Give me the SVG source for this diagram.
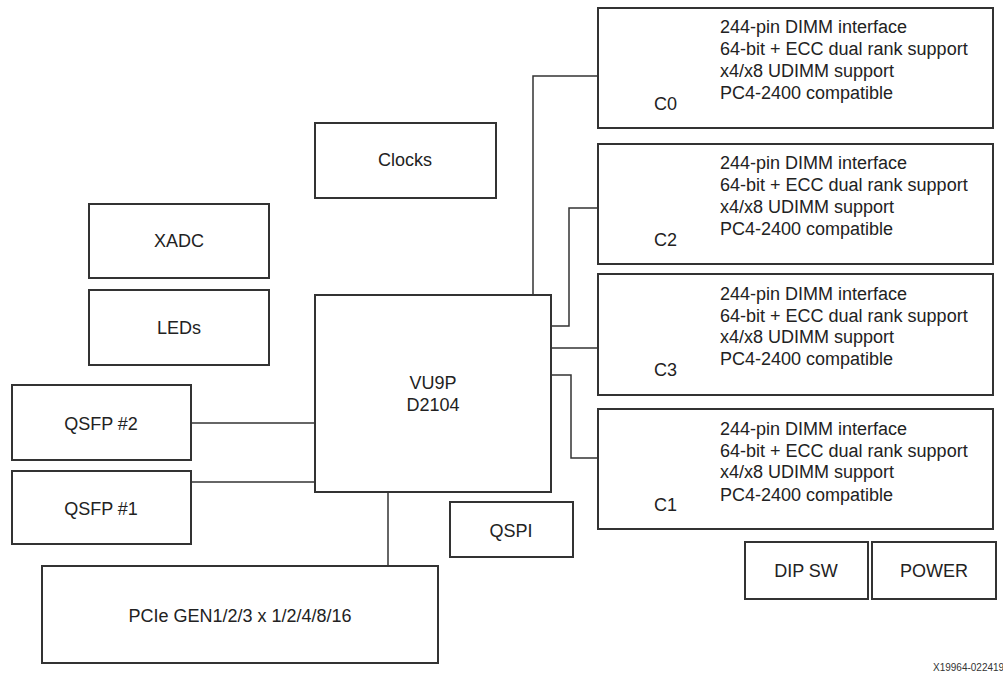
<svg xmlns="http://www.w3.org/2000/svg" width="1003" height="673" viewBox="0 0 1003 673">
<style>
.box{fill:#fff;stroke:#333;stroke-width:2}
.lbl{font-family:"Liberation Sans",Arial,sans-serif;font-size:18px;fill:#222}
.c{text-anchor:middle}
.wire{fill:none;stroke:#333;stroke-width:1.5}
</style>
<rect width="1003" height="673" fill="#fff"/>
<g id="connectors">
<path class="wire" d="M533,295 V76 H598"/>
<path class="wire" d="M551,326 H569 V208 H598"/>
<path class="wire" d="M551,348 H598"/>
<path class="wire" d="M551,375 H571 V458 H598"/>
<path class="wire" d="M191,423 H315"/>
<path class="wire" d="M191,482 H315"/>
<path class="wire" d="M388,492 V566"/>
</g>
<g id="c0">
<rect class="box" x="598" y="8" width="395" height="120"/>
<text class="lbl" x="720" y="32.5">244-pin DIMM interface</text>
<text class="lbl" x="720" y="54.5">64-bit + ECC dual rank support</text>
<text class="lbl" x="720" y="76.5">x4/x8 UDIMM support</text>
<text class="lbl" x="720" y="98.5">PC4-2400 compatible</text>
<text class="lbl" x="654" y="109.5">C0</text>
</g>
<g id="c2">
<rect class="box" x="598" y="144" width="395" height="120"/>
<text class="lbl" x="720" y="168.5">244-pin DIMM interface</text>
<text class="lbl" x="720" y="190.5">64-bit + ECC dual rank support</text>
<text class="lbl" x="720" y="212.5">x4/x8 UDIMM support</text>
<text class="lbl" x="720" y="234.5">PC4-2400 compatible</text>
<text class="lbl" x="654" y="245.5">C2</text>
</g>
<g id="c3">
<rect class="box" x="598" y="274" width="395" height="121"/>
<text class="lbl" x="720" y="299.5">244-pin DIMM interface</text>
<text class="lbl" x="720" y="321.5">64-bit + ECC dual rank support</text>
<text class="lbl" x="720" y="343">x4/x8 UDIMM support</text>
<text class="lbl" x="720" y="365">PC4-2400 compatible</text>
<text class="lbl" x="654" y="375.5">C3</text>
</g>
<g id="c1">
<rect class="box" x="598" y="409" width="395" height="120"/>
<text class="lbl" x="720" y="434.5">244-pin DIMM interface</text>
<text class="lbl" x="720" y="456.5">64-bit + ECC dual rank support</text>
<text class="lbl" x="720" y="477.5">x4/x8 UDIMM support</text>
<text class="lbl" x="720" y="500.5">PC4-2400 compatible</text>
<text class="lbl" x="654" y="510.5">C1</text>
</g>
<g id="clocks">
<rect class="box" x="315" y="123" width="181" height="75"/>
<text class="lbl c" x="405" y="165.5">Clocks</text>
</g>
<g id="xadc">
<rect class="box" x="89" y="204" width="180" height="74"/>
<text class="lbl c" x="179" y="246.5">XADC</text>
</g>
<g id="leds">
<rect class="box" x="89" y="290" width="180" height="75"/>
<text class="lbl c" x="179" y="333.5">LEDs</text>
</g>
<g id="vu9p">
<rect class="box" x="315" y="295" width="236" height="197"/>
<text class="lbl c" x="433" y="388.5">VU9P</text>
<text class="lbl c" x="433" y="410.5">D2104</text>
</g>
<g id="qsfp2">
<rect class="box" x="12" y="385" width="179" height="75"/>
<text class="lbl c" x="101" y="429.5">QSFP #2</text>
</g>
<g id="qsfp1">
<rect class="box" x="12" y="471" width="179" height="73"/>
<text class="lbl c" x="101" y="514.5">QSFP #1</text>
</g>
<g id="qspi">
<rect class="box" x="450" y="502" width="123" height="55"/>
<text class="lbl c" x="511" y="536.5">QSPI</text>
</g>
<g id="pcie">
<rect class="box" x="42" y="566" width="396" height="97"/>
<text class="lbl c" x="240" y="621.5">PCIe GEN1/2/3 x 1/2/4/8/16</text>
</g>
<g id="dipsw">
<rect class="box" x="745" y="542" width="123" height="57"/>
<text class="lbl c" x="806" y="576.5">DIP SW</text>
</g>
<g id="power">
<rect class="box" x="872" y="542" width="124" height="57"/>
<text class="lbl c" x="934" y="576.5">POWER</text>
</g>
<text x="933" y="671" font-family="Liberation Sans, Arial, sans-serif" font-size="10" fill="#333">X19964-022419</text>
</svg>
